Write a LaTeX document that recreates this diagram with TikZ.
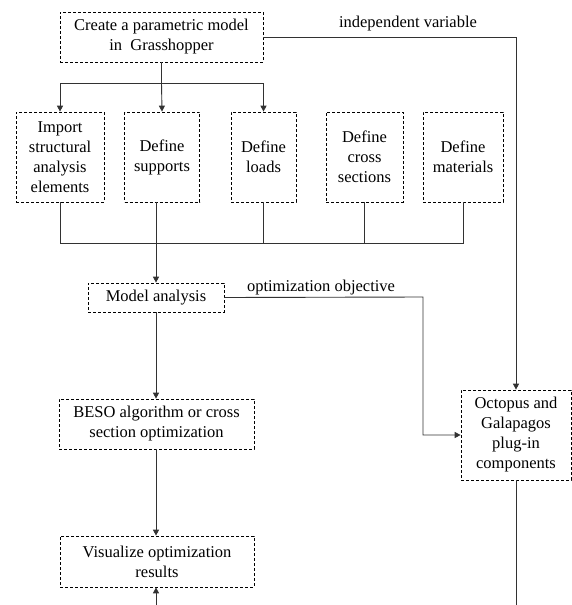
\documentclass[tikz,border=0pt]{standalone}
\usepackage{fontspec}
\setmainfont{Liberation Serif}
\usetikzlibrary{arrows.meta}
\definecolor{lineG}{RGB}{50,50,50}

\begin{document}
\begin{tikzpicture}[x=1pt,y=-1pt,>={Triangle[length=6pt,width=6pt]},
  font=\fontsize{16.5}{20}\selectfont,
  box/.style={draw,dash pattern=on 3pt off 2pt,line width=0.7pt,align=center,inner sep=0pt},
  link/.style={lineG,line width=0.9pt}]
\useasboundingbox (0,0) rectangle (572,605);
% boxes
\node[box,minimum width=203,minimum height=50] (top) at (161.5,37) {Create a parametric model\\in\ \ Grasshopper};
\node[box,minimum width=88,minimum height=90] (imp) at (60,157) {Import\\structural\\analysis\\elements};
\node[box,minimum width=75,minimum height=90] (sup) at (162,157) {Define\\supports};
\node[box,minimum width=65,minimum height=90] (load) at (263.5,157) {Define\\loads};
\node[box,minimum width=77,minimum height=90] (cross) at (364.5,157) {Define\\cross\\sections};
\node[box,minimum width=80,minimum height=90] (mat) at (463,157) {Define\\materials};
\node[box,minimum width=136,minimum height=29] (ana) at (156,297.5) {Model analysis};
\node[box,minimum width=195,minimum height=50] (beso) at (156.5,424) {BESO algorithm or cross\\section optimization};
\node[box,minimum width=194,minimum height=51] (vis) at (157,561.5) {Visualize optimization\\results};
\node[box,minimum width=110,minimum height=90] (octo) at (516,435) {Octopus and\\Galapagos\\plug-in\\components};
% helper points
\coordinate (split) at (161.5,83);
\coordinate (merge) at (156,243);
\coordinate (objturn) at (423,297);
\coordinate (octoend) at (516,605);
\coordinate (visstart) at (156,605);
% fan out
\draw[link] (top.south) -- (split);
\draw[link,->] (split) -| (imp.north);
\draw[link,->] (split) -| (load.north);
\draw[link,->] (split) -- (sup.north);
% merge
\draw[link] (imp.south) |- (merge);
\draw[link] (mat.south) |- (merge);
\draw[link] (load.south) -- (load.south |- merge);
\draw[link] (cross.south) -- (cross.south |- merge);
\draw[link,->] (sup.south -| ana.north) -- (ana.north);
% main column
\draw[link,->] (ana.south) -- (ana.south |- beso.north);
\draw[link,->] (beso.south -| ana.south) -- (ana.south |- vis.north);
\draw[link,->] (visstart) -- (visstart |- vis.south);
% optimizer links
\draw[link,->] (top.east) -| (octo.north);
\draw[link,->] (ana.east) -- (objturn) |- (octo.west);
\draw[link] (octo.south) -- (octoend);
% labels
\node (indep) at (408,24) {independent variable};
\node (objlbl) at (321,288) {optimization objective};
\end{tikzpicture}
\end{document}
